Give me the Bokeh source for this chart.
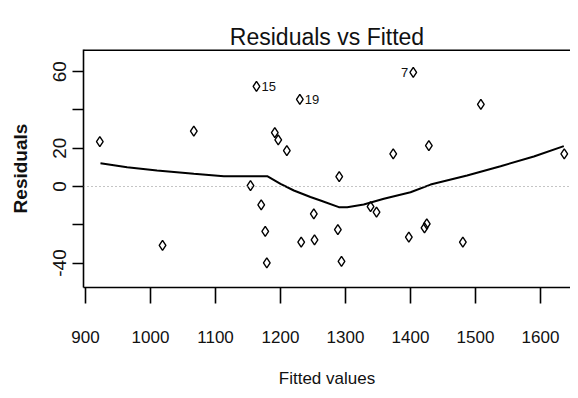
from bokeh.plotting import figure
from bokeh.models import Range1d, FixedTicker, LinearAxis, Span, ColumnDataSource
from bokeh.embed import file_html
from bokeh.resources import INLINE
from bokeh.core.properties import value

# ---- data ----
fitted = [922, 1066.6, 1018.5, 1163, 1229.7, 1191.2, 1196.5, 1209.7, 1153.8, 1170.3,
          1176.5, 1178.9, 1231.8, 1251.2, 1252.3, 1290.3, 1288.2, 1293.8, 1338.5, 1347.7,
          1373.4, 1404.2, 1428.2, 1397.4, 1421.5, 1425.0, 1480.5, 1508.2, 1636.5]
residuals = [23.5, 28.9, -30.8, 52.3, 45.5, 28.2, 24.4, 18.8, 0.5, -9.6,
             -23.5, -39.9, -29.1, -14.3, -27.9, 5.2, -22.6, -39.2, -10.5, -13.4,
             17.1, 59.6, 21.4, -26.5, -21.6, -19.5, -29.1, 42.9, 17.1]

label_x = [1163, 1229.7, 1404.2]
label_y = [52.3, 45.5, 59.6]
label_text = ["15", "19", "7"]
label_side = ["right", "right", "left"]

smooth_x = [923, 964, 1010, 1066.6, 1112.8, 1179.5, 1200, 1220.5, 1246, 1261.5,
            1289.7, 1302.6, 1328, 1359, 1400, 1430.8, 1487, 1538.5, 1589.7, 1635.8]
smooth_y = [12.2, 10.1, 8.4, 6.6, 5.4, 5.4, 1.4, -2.1, -5.5, -7.3,
            -10.8, -10.8, -9.4, -6.4, -3.0, 1.0, 5.7, 10.6, 15.7, 21.1]

x_ticks = [900, 1000, 1100, 1200, 1300, 1400, 1500, 1600]
y_ticks = [-40, -20, 0, 20, 40, 60]
y_tick_labels = ["-40", "", "0", "20", "", "60"]

title_text = "Residuals vs Fitted"
x_label = "Fitted values"
y_label = "Residuals"

SANS = "Liberation Sans"
X_START, X_END = 896.9, 1646.1
Y_START, Y_END = -52.8, 71.6

p = figure(width=570, height=390, title=title_text,
           x_range=Range1d(X_START, X_END), y_range=Range1d(Y_START, Y_END),
           output_backend="svg", toolbar_location=None,
           min_border_left=83, min_border_right=0, min_border_top=49, min_border_bottom=103,
           x_axis_type=None, y_axis_type=None)
p.outline_line_color = None
p.background_fill_color = "white"
p.border_fill_color = "white"

p.title.align = "center"
p.title.text_font = SANS
p.title.text_font_size = "23px"
p.title.text_font_style = "normal"
p.title.text_color = "#111111"
p.title.standoff = 0

# bottom axis
xa = LinearAxis(ticker=FixedTicker(ticks=x_ticks), axis_label=x_label)
xa.axis_line_width = 1.6
xa.major_tick_line_width = 1.6
xa.major_tick_out = 16
xa.major_tick_in = 0
xa.minor_tick_line_color = None
xa.major_label_standoff = 27
xa.major_label_text_font = SANS
xa.major_label_text_font_size = "17px"
xa.major_label_text_color = "#111111"
xa.axis_label_text_font = SANS
xa.axis_label_text_font_size = "17px"
xa.axis_label_text_font_style = "normal"
xa.axis_label_standoff = 23
xa.axis_label_text_color = "#111111"
p.add_layout(xa, "below")

# left axis
ya = LinearAxis(ticker=FixedTicker(ticks=y_ticks), axis_label=y_label)
ya.major_label_overrides = {t: s for t, s in zip(y_ticks, y_tick_labels)}
ya.major_label_orientation = "vertical"
ya.axis_line_width = 1.6
ya.major_tick_line_width = 1.6
ya.major_tick_out = 11
ya.major_tick_in = 0
ya.minor_tick_line_color = None
ya.major_label_standoff = 6
ya.major_label_text_font = SANS
ya.major_label_text_font_size = "19px"
ya.major_label_text_color = "#111111"
ya.axis_label_text_font = SANS
ya.axis_label_text_font_size = "19px"
ya.axis_label_text_font_style = "bold"
ya.axis_label_standoff = 20
ya.axis_label_text_color = "#111111"
p.add_layout(ya, "left")

# top border line of the box
p.add_layout(Span(location=Y_END, dimension="width", line_color="black", line_width=3))

# zero reference line
p.add_layout(Span(location=0, dimension="width", line_color="#8a8a8a",
                  line_dash="1 3", line_width=1.2))

# smoother
p.line(smooth_x, smooth_y, line_color="black", line_width=2)

# points
p.scatter(fitted, residuals, marker="diamond", size=10, fill_color=None,
          line_color="black", line_width=1.4)

# point id labels
for lx, ly, lt, side in zip(label_x, label_y, label_text, label_side):
    src = ColumnDataSource(dict(x=[lx], y=[ly], t=[lt]))
    p.text(x="x", y="y", text="t", source=src,
           x_offset=5 if side == "right" else -5,
           text_align="left" if side == "right" else "right",
           text_baseline="middle", text_font=value(SANS),
           text_font_size="13px", text_color="#111111")

open("out.html", "w").write(file_html(p, INLINE))
